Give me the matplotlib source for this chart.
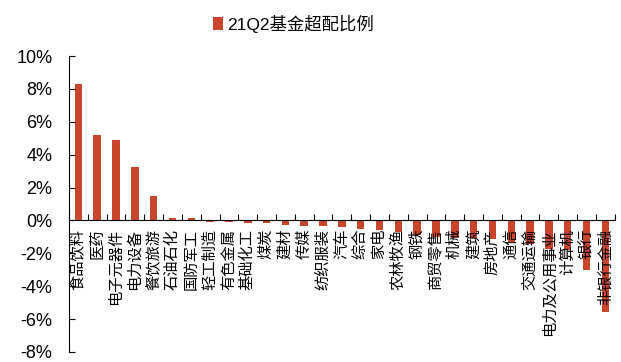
import numpy as np
import matplotlib
matplotlib.use("Agg")
import matplotlib.pyplot as plt

plt.rcParams['font.family'] = ['Liberation Sans', 'Noto Sans CJK SC', 'DejaVu Sans']

categories = ['食品饮料', '医药', '电子元器件', '电力设备', '餐饮旅游', '石油石化', '国防军工',
              '轻工制造', '有色金属', '基础化工', '煤炭', '建材', '传媒', '纺织服装', '汽车',
              '综合', '家电', '农林牧渔', '钢铁', '商贸零售', '机械', '建筑', '房地产', '通信',
              '交通运输', '电力及公用事业', '计算机', '银行', '非银行金融']
values = [8.33, 5.19, 4.88, 3.28, 1.46, 0.16, 0.12,
          -0.08, -0.09, -0.14, -0.18, -0.28, -0.33, -0.37, -0.40,
          -0.50, -0.60, -0.70, -0.90, -1.00, -1.05, -1.10, -1.15, -1.30,
          -1.45, -1.75, -1.80, -3.00, -5.55]
yticks = [10, 8, 6, 4, 2, 0, -2, -4, -6, -8]
series_name = '21Q2基金超配比例'
bar_color = '#C9462C'

fig = plt.figure(figsize=(6.21, 3.62), dpi=100)
ax = fig.add_axes([0.111, 0.028, 0.879, 0.817])

x = np.arange(len(categories))
ax.bar(x, values, width=0.4, color=bar_color, label=series_name, zorder=2)
ax.set_axisbelow(False)

ax.set_xlim(-0.5, len(categories) - 0.5)
ax.set_ylim(-8, 10)
ax.set_yticks(yticks)
ax.set_yticklabels([f'{v}%' for v in yticks], fontsize=13)
ax.tick_params(axis='y', direction='in', length=4, width=0.8, pad=12)

for s in ['top', 'right']:
    ax.spines[s].set_visible(False)
ax.spines['bottom'].set_position(('data', 0))
ax.spines['left'].set_linewidth(0.8)
ax.spines['bottom'].set_linewidth(0.8)

ax.set_xticks(x)
ax.set_xticklabels(categories, rotation=90, fontsize=11, va='top', ha='center')
ax.tick_params(axis='x', which='major', length=0, pad=6)
ax.set_xticks(np.arange(len(categories) + 1) - 0.5, minor=True)
ax.tick_params(axis='x', which='minor', direction='in', length=4, width=0.8)

fig.legend(loc='center', bbox_to_anchor=(0.472, 0.935), frameon=False,
           fontsize=12.5, handlelength=0.6, handleheight=0.7, handletextpad=0.2)

fig.savefig('out.png', dpi=100)
